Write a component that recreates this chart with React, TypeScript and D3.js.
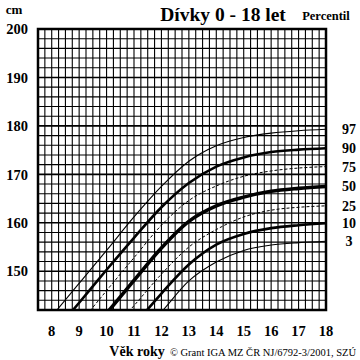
import React from "react";
import * as d3 from "d3";

const ages = [8, 9, 10, 11, 12, 13, 14, 15, 16, 17, 18];
const p97 = [140.7, 147.5, 154.3, 161.2, 167.5, 172.7, 175.9, 177.6, 178.5, 179.0, 179.3];
const p90 = [136.8, 143.5, 150.3, 156.9, 163.2, 168.2, 171.6, 173.5, 174.6, 175.1, 175.4];
const p75 = [132.3, 139.1, 146.0, 152.8, 159.5, 164.6, 167.6, 169.6, 170.7, 171.3, 171.6];
const p50 = [128.0, 134.6, 141.3, 148.1, 154.8, 160.3, 163.5, 165.3, 166.5, 167.1, 167.5];
const p25 = [124.0, 130.3, 136.5, 142.9, 149.4, 155.0, 158.6, 161.2, 162.6, 163.2, 163.5];
const p10 = [120.0, 126.4, 132.7, 138.9, 145.4, 151.4, 155.5, 157.7, 158.9, 159.5, 159.9];
const p3 = [117.0, 123.2, 129.4, 135.6, 141.6, 148.0, 151.9, 154.3, 155.4, 155.9, 156.2];

const percentileLabels = ["97", "90", "75", "50", "25", "10", "3"];
const seriesValues = [p97, p90, p75, p50, p25, p10, p3];
const seriesStyle = [
  { w: 1.1, dash: "" },
  { w: 2.6, dash: "" },
  { w: 1.0, dash: "3,2" },
  { w: 3.6, dash: "" },
  { w: 1.0, dash: "3,2" },
  { w: 2.6, dash: "" },
  { w: 1.1, dash: "" },
];

const xTicks = [8, 9, 10, 11, 12, 13, 14, 15, 16, 17, 18];
const yTicks = [150, 160, 170, 180, 190, 200];

const L = 38, R = 326, T = 29, B = 310;
const FONT = "'Liberation Serif', 'Times New Roman', serif";

export default function App() {
  const x = d3.scaleLinear().domain([7.5, 18]).range([L, R]);
  const y = d3.scaleLinear().domain([142, 200]).range([B, T]);

  const vGrid = d3.range(7.5, 18.001, 0.25);
  const hGrid = d3.range(142, 200.001, 2);

  const line = d3
    .line<[number, number]>()
    .x((d) => x(d[0]))
    .y((d) => y(d[1]))
    .curve(d3.curveMonotoneX);

  return (
    <svg
      width={360}
      height={360}
      style={{ position: "absolute", left: 0, top: 0, background: "#fff" }}
      fontFamily={FONT}
    >
      <rect x={0} y={0} width={360} height={360} fill="#fff" />
      <defs>
        <clipPath id="plotclip">
          <rect x={L} y={T} width={R - L} height={B - T} />
        </clipPath>
      </defs>
      {vGrid.map((v, i) => (
        <line
          key={"v" + i}
          x1={x(v)}
          x2={x(v)}
          y1={T}
          y2={B}
          stroke="#000"
          strokeWidth={1.1}
        />
      ))}
      {hGrid.map((v, i) => (
        <line
          key={"h" + i}
          x1={L}
          x2={R}
          y1={y(v)}
          y2={y(v)}
          stroke="#000"
          strokeWidth={v % 10 === 0 ? 1.6 : 1.1}
        />
      ))}
      <g clipPath="url(#plotclip)">
        {seriesValues.map((vals, i) => (
          <path
            key={"s" + i}
            d={line(ages.map((a, j) => [a, vals[j]] as [number, number])) || ""}
            fill="none"
            stroke="#000"
            strokeWidth={seriesStyle[i].w}
            strokeDasharray={seriesStyle[i].dash || undefined}
          />
        ))}
      </g>
      <rect x={L} y={T} width={R - L} height={B - T} fill="none" stroke="#000" strokeWidth={2.5} />

      {yTicks.map((t) => (
        <text
          key={"yt" + t}
          x={17}
          y={y(t)}
          dy="0.36em"
          textAnchor="middle"
          fontSize={14.5}
          fontWeight="bold"
        >
          {t}
        </text>
      ))}
      {xTicks.map((t) => (
        <text
          key={"xt" + t}
          x={x(t)}
          y={331}
          dy="0.36em"
          textAnchor="middle"
          fontSize={14.5}
          fontWeight="bold"
        >
          {t}
        </text>
      ))}
      {percentileLabels.map((lab, i) => (
        <text
          key={"pl" + lab}
          x={349}
          y={y(seriesValues[i][seriesValues[i].length - 1])}
          dy="0.36em"
          textAnchor="middle"
          fontSize={14}
          fontWeight="bold"
        >
          {lab}
        </text>
      ))}
      <text x={14} y={14} textAnchor="middle" fontSize={13} fontWeight="bold">
        cm
      </text>
      <text x={223} y={21} textAnchor="middle" fontSize={19.5} fontWeight="bold">
        Dívky 0 - 18 let
      </text>
      <text x={326} y={20} textAnchor="middle" fontSize={12.5} fontWeight="bold">
        Percentil
      </text>
      <text x={137} y={356} textAnchor="middle" fontSize={14} fontWeight="bold">
        Věk roky
      </text>
      <text x={263} y={356} textAnchor="middle" fontSize={10.5}>
        © Grant IGA MZ ČR NJ/6792-3/2001, SZÚ
      </text>
    </svg>
  );
}
